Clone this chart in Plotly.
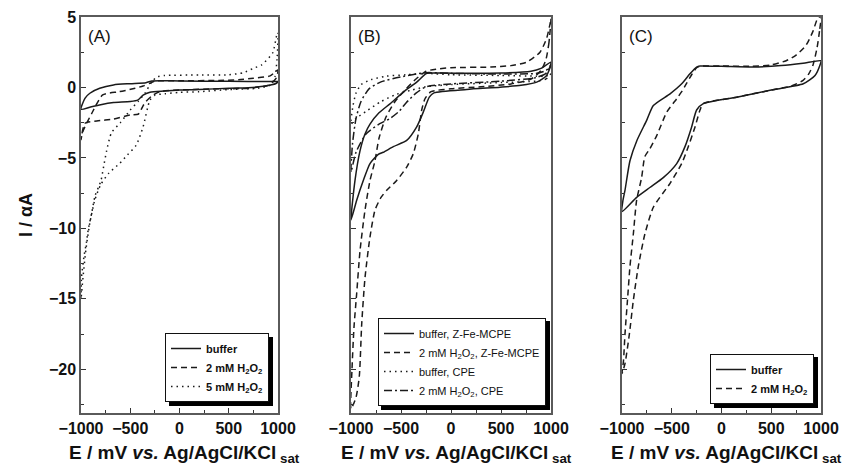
import plotly.graph_objects as go

W, H = 844, 469

# ---------------- data (E in mV, I in alpha-A) ----------------
# Panel A
E_A_buffer = [1000, 980, 850, 700, 500, 200, 0, -160, -300, -370, -420, -500, -670, -800, -910, -1000,
              -960, -910, -810, -670, -500, -340, -280, -200, 0, 500, 900, 1000]
I_A_buffer = [0.40, 0.28, 0.08, -0.02, -0.05, -0.15, -0.18, -0.25, -0.34, -0.55, -0.88, -1.00, -1.07, -1.22, -1.40, -1.55,
              -0.77, -0.41, -0.06, 0.18, 0.27, 0.34, 0.46, 0.48, 0.46, 0.44, 0.42, 0.42]

E_A_2mM = [1000, 980, 900, 700, 400, 0, -200, -280, -340, -370, -400, -420, -500, -670, -840, -960, -1000,
           -980, -890, -780, -630, -570, -450, -370, -300, -250, 0, 400, 600, 750, 920, 1000]
I_A_2mM = [1.24, 0.65, 0.15, -0.05, -0.10, -0.18, -0.30, -0.60, -1.00, -1.30, -1.72, -1.90, -1.95, -2.24, -2.38, -2.54, -3.70,
           -3.10, -1.83, -0.53, -0.32, -0.25, -0.05, 0.10, 0.30, 0.45, 0.47, 0.50, 0.55, 0.65, 0.82, 1.24]

E_A_5mM = [1000, 990, 970, 930, 800, 500, 200, 0, -150, -250, -300, -370, -440, -530, -610, -720, -800, -860, -910, -950,
           -980, -1000, -995, -970, -945, -927, -891, -858, -824, -797, -770, -740, -690, -600, -500, -420, -350, -290,
           -230, -150, 200, 500, 650, 750, 834, 919, 950, 987, 1000]
I_A_5mM = [3.9, 2.0, 0.8, 0.2, -0.05, -0.15, -0.30, -0.35, -0.45, -0.55, -0.90, -2.80, -4.10, -4.80, -5.40, -6.10, -6.90,
           -8.00, -9.60, -11.5, -13.5, -15.0, -13.5, -12.0, -11.0, -10.1, -8.9, -7.7, -7.1, -6.6, -5.6, -4.5, -3.2, -2.5,
           -1.6, -1.0, -0.4, 0.3, 0.75, 0.85, 0.88, 0.90, 1.05, 1.36, 1.60, 2.20, 2.50, 3.70, 3.90]

# Panel B
E_B_buf_Z = [1000, 980, 950, 857, 700, 490, 157, -170, -217, -277, -343, -443, -577, -677, -727, -810, -877, -943, -1000,
             -960, -910, -860, -810, -720, -610, -477, -343, -243, -100, 200, 500, 800, 900, 1000]
I_B_buf_Z = [1.8, 1.2, 0.8, 0.38, 0.15, 0.02, -0.14, -0.38, -0.69, -1.75, -2.8, -3.76, -4.2, -4.6, -4.75, -5.4, -6.6, -8.0, -9.4,
             -6.6, -4.5, -3.3, -2.6, -1.8, -1.16, -0.33, 0.38, 1.0, 1.02, 1.0, 1.02, 1.15, 1.35, 1.8]

E_B_2mM_Z = [1000, 980, 950, 900, 800, 600, 300, 0, -200, -260, -293, -327, -377, -443, -543, -643, -700, -760, -810, -860,
             -893, -917, -950, -1000, -990, -970, -943, -910, -860, -810, -760, -720, -650, -560, -450, -350, -250, -150,
             0, 400, 600, 757, 890, 957, 990, 1000]
I_B_2mM_Z = [4.9, 3.2, 2.0, 1.2, 0.6, 0.25, 0.05, -0.10, -0.30, -0.80, -1.60, -3.30, -4.70, -5.65, -6.60, -7.30, -7.80, -8.70,
             -10.6, -13.5, -16.8, -20.5, -22.0, -22.8, -20.0, -17.0, -14.6, -11.6, -8.7, -6.6, -5.2, -3.6, -2.1, -1.0, -0.1,
             0.6, 1.15, 1.30, 1.40, 1.45, 1.55, 1.80, 2.50, 3.50, 4.50, 4.90]

E_B_buf_CPE = [1000, 950, 850, 500, 0, -250, -400, -550, -700, -850, -950, -1000,
               -980, -950, -900, -800, -650, -450, -250, 0, 500, 850, 950, 1000]
I_B_buf_CPE = [1.0, 0.6, 0.45, 0.35, 0.2, 0.05, -0.2, -0.5, -1.0, -1.7, -2.2, -2.6,
               -1.3, -0.4, 0.2, 0.55, 0.8, 0.9, 1.0, 0.9, 0.85, 0.8, 0.8, 1.0]

E_B_2mM_CPE = [1000, 950, 850, 500, 0, -250, -350, -450, -520, -610, -720, -850, -950, -1000,
               -985, -950, -900, -820, -700, -500, -250, 0, 500, 850, 950, 1000]
I_B_2mM_CPE = [1.6, 1.0, 0.7, 0.45, 0.25, 0.05, -0.4, -1.1, -1.7, -2.2, -2.6, -3.3, -4.6, -6.0,
               -4.0, -2.2, -1.0, -0.1, 0.4, 0.75, 1.05, 1.0, 0.95, 1.0, 1.2, 1.6]

# Panel C
E_C_buffer = [1000, 990, 940, 822, 487, 153, -183, -250, -300, -367, -450, -585, -720, -853, -1000,
              -990, -970, -920, -850, -750, -685, -517, -400, -317, -250, -216, 0, 318, 600, 820, 1000]
I_C_buffer = [1.9, 1.6, 0.85, 0.26, -0.2, -0.69, -1.15, -1.6, -2.8, -4.2, -5.4, -6.4, -7.1, -7.8, -8.8,
              -8.0, -7.3, -5.2, -3.76, -2.3, -1.28, -0.45, 0.26, 0.97, 1.45, 1.52, 1.5, 1.45, 1.55, 1.72, 1.9]

E_C_2mM = [1000, 985, 960, 920, 880, 820, 700, 487, 153, -183, -216, -266, -334, -400, -517, -685, -770, -836, -886,
           -926, -970, -1000, -985, -970, -945, -920, -886, -853, -803, -770, -720, -650, -550, -450, -400, -350, -300,
           -250, -216, 0, 300, 500, 650, 750, 850, 920, 960, 1000]
I_C_2mM = [5.1, 4.0, 2.8, 1.6, 1.0, 0.5, 0.1, -0.2, -0.69, -1.15, -1.6, -2.8, -4.2, -5.4, -6.8, -8.5, -10.4, -12.7, -15.1,
           -17.5, -19.6, -20.3, -19.4, -17.5, -15.1, -12.7, -10.4, -8.0, -6.4, -4.9, -4.35, -3.4, -1.75, -0.8, -0.3, 0.3,
           0.9, 1.4, 1.5, 1.52, 1.5, 1.6, 1.9, 2.3, 3.0, 4.0, 4.8, 5.1]

H2O2 = "H<sub>2</sub>O<sub>2</sub>"

# ---------------- styling helpers ----------------
LINE_COL = "#1a1a1a"
STYLES = {
    "solid": "solid",
    "dash": "6px,4px",
    "dot": "1.5px,4px",
    "dashdot": "8px,3px,2px,3px",
}
FONT = "Liberation Sans, Arial, sans-serif"
NARROW = "Liberation Sans Narrow, Arial Narrow, Liberation Sans, Arial, sans-serif"


def xp(px):
    return px / W


def yp(py):
    return 1 - py / H


panels = [  # frame left, frame right (pixels)
    (81, 278),
    (351, 551),
    (622, 821),
]
TOP, BOTTOM = 17, 413

fig = go.Figure()

series = [
    (1, E_A_buffer, I_A_buffer, "buffer", "solid", "legend"),
    (1, E_A_2mM, I_A_2mM, "2 mM " + H2O2, "dash", "legend"),
    (1, E_A_5mM, I_A_5mM, "5 mM " + H2O2, "dot", "legend"),
    (2, E_B_buf_Z, I_B_buf_Z, "buffer, Z-Fe-MCPE", "solid", "legend2"),
    (2, E_B_2mM_Z, I_B_2mM_Z, "2 mM " + H2O2 + ", Z-Fe-MCPE", "dash", "legend2"),
    (2, E_B_buf_CPE, I_B_buf_CPE, "buffer, CPE", "dot", "legend2"),
    (2, E_B_2mM_CPE, I_B_2mM_CPE, "2 mM " + H2O2 + ", CPE", "dashdot", "legend2"),
    (3, E_C_buffer, I_C_buffer, "buffer", "solid", "legend3"),
    (3, E_C_2mM, I_C_2mM, "2 mM " + H2O2, "dash", "legend3"),
]

for k, ex, iy, name, sty, leg in series:
    suffix = "" if k == 1 else str(k)
    fig.add_trace(go.Scatter(
        x=ex, y=iy, mode="lines", name=name,
        line=dict(color=LINE_COL, width=1.5, dash=STYLES[sty], shape="spline", smoothing=0.6),
        xaxis="x" + suffix, yaxis="y" + suffix, legend=leg,
    ))

axis_common = dict(
    showline=True, linecolor="#5a5a5a", linewidth=1.5, mirror=True,
    showgrid=False, zeroline=False,
    ticks="inside", ticklen=5, tickwidth=1, tickcolor="#333",
    tickfont=dict(family=FONT, size=16, color="#111", weight="bold"),
    automargin=False,
)

layout = dict(
    width=W, height=H,
    margin=dict(l=0, r=0, t=0, b=0),
    paper_bgcolor="white", plot_bgcolor="white",
    template="none",
    showlegend=True,
)

for k, (l, r) in enumerate(panels, start=1):
    suffix = "" if k == 1 else str(k)
    layout["xaxis" + suffix] = dict(
        axis_common,
        domain=[xp(l), xp(r)], range=[-1000, 1000],
        tick0=0, dtick=500,
        minor=dict(ticks="inside", ticklen=3, tickcolor="#333", dtick=250, tick0=0),
        anchor="y" + suffix,
    )
    layout["yaxis" + suffix] = dict(
        axis_common,
        domain=[yp(BOTTOM), yp(TOP)], range=[-23.1, 5],
        tick0=0, dtick=5,
        minor=dict(ticks="inside", ticklen=3, tickcolor="#333", dtick=2.5, tick0=0),
        showticklabels=(k == 1),
        anchor="x" + suffix,
    )

legend_common = dict(
    bgcolor="white", bordercolor="#111", borderwidth=1,
    xanchor="right", yanchor="bottom", itemwidth=30,
    traceorder="normal",
)
legend_specs = {  # right edge, bottom edge, rendered width, height, bold
    "legend": (269, 402, 104, 69, True),
    "legend2": (546, 406, 169, 89, False),
    "legend3": (814, 404, 104, 51, True),
}
shapes = []
for key, (rx, by, w, h, bold) in legend_specs.items():
    layout[key] = dict(
        legend_common, x=xp(rx), y=yp(by),
        font=dict(family=NARROW, size=11, color="#111", weight="bold" if bold else "normal"),
    )
    shapes.append(dict(
        type="rect", xref="paper", yref="paper",
        x0=xp(rx - w + 4), x1=xp(rx + 4), y0=yp(by + 4), y1=yp(by - h + 4),
        fillcolor="black", line=dict(width=0), layer="above",
    ))
layout["shapes"] = shapes

annotations = []
for k, (l, r) in enumerate(panels):
    annotations.append(dict(
        text="(" + "ABC"[k] + ")", xref="paper", yref="paper",
        x=xp(l + 5), y=yp(36), xanchor="left", yanchor="middle", showarrow=False,
        font=dict(family=FONT, size=17, color="#111"),
    ))
    annotations.append(dict(
        text="E / mV <i>vs.</i> Ag/AgCl/KCl<sub> sat</sub>", xref="paper", yref="paper",
        x=xp((l + r) / 2 + 5), y=yp(454), xanchor="center", yanchor="middle", showarrow=False,
        font=dict(family=FONT, size=19, color="#111", weight="bold"),
    ))
annotations.append(dict(
    text="I / αA", xref="paper", yref="paper", textangle=-90,
    x=xp(26), y=yp(215), xanchor="center", yanchor="middle", showarrow=False,
    font=dict(family=FONT, size=18, color="#111", weight="bold"),
))
layout["annotations"] = annotations

fig.update_layout(**layout)
fig.write_html("out.html")
